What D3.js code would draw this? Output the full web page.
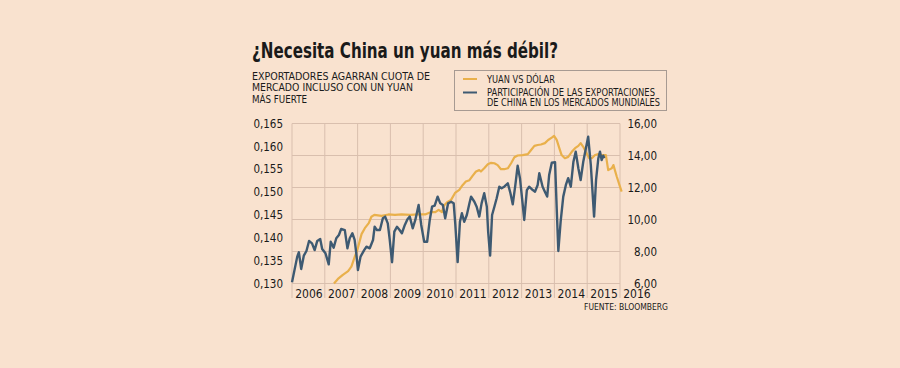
<!DOCTYPE html>
<html><head><meta charset="utf-8">
<script src="https://cdn.jsdelivr.net/npm/d3@7"></script>
<style>
html,body{margin:0;padding:0;background:#f9e2cf;}
svg{display:block;}
</style></head>
<body>
<svg id="chart" width="900" height="368"></svg>
<script>
// ---------- DATA ----------
const title = "¿Necesita China un yuan más débil?";
const subtitleLines = ["EXPORTADORES AGARRAN CUOTA DE", "MERCADO INCLUSO CON UN YUAN", "MÁS FUERTE"];
const legendYuan = ["YUAN VS DÓLAR"];
const legendShare = ["PARTICIPACIÓN DE LAS EXPORTACIONES", "DE CHINA EN LOS MERCADOS MUNDIALES"];
const source = "FUENTE: BLOOMBERG";
const years = [2006, 2007, 2008, 2009, 2010, 2011, 2012, 2013, 2014, 2015, 2016];
const leftTicks = [0.130, 0.135, 0.140, 0.145, 0.150, 0.155, 0.160, 0.165];
const rightTicks = [6, 8, 10, 12, 14, 16];

// Yuan vs dollar (left axis), decimal year
const yuanDates = [2007.28,2007.40,2007.55,2007.71,2007.81,2007.92,2007.99,2008.12,2008.22,2008.34,2008.42,2008.51,2008.73,2008.94,2009.14,2009.34,2009.60,2009.84,2010.06,2010.22,2010.37,2010.47,2010.57,2010.63,2010.73,2010.85,2010.97,2011.10,2011.20,2011.30,2011.41,2011.51,2011.61,2011.71,2011.76,2011.86,2011.97,2012.07,2012.17,2012.27,2012.37,2012.47,2012.58,2012.68,2012.78,2012.88,2013.03,2013.19,2013.29,2013.39,2013.49,2013.59,2013.71,2013.81,2013.92,2013.99,2014.07,2014.15,2014.22,2014.32,2014.42,2014.53,2014.63,2014.73,2014.80,2014.88,2014.98,2015.06,2015.14,2015.24,2015.34,2015.44,2015.57,2015.64,2015.75,2015.80,2015.90,2016.00,2016.05];
const yuanValues = [0.1300,0.1310,0.1319,0.1327,0.1337,0.1360,0.1373,0.1408,0.1421,0.1432,0.1446,0.1450,0.1448,0.1451,0.1450,0.1451,0.1450,0.1451,0.1451,0.1456,0.1456,0.1461,0.1456,0.1470,0.1478,0.1483,0.1498,0.1505,0.1515,0.1523,0.1526,0.1536,0.1545,0.1548,0.1545,0.1552,0.1561,0.1564,0.1563,0.1559,0.1550,0.1550,0.1552,0.1563,0.1576,0.1580,0.1581,0.1583,0.1592,0.1601,0.1603,0.1604,0.1607,0.1614,0.1619,0.1623,0.1614,0.1596,0.1581,0.1574,0.1577,0.1588,0.1596,0.1601,0.1607,0.1599,0.1585,0.1574,0.1574,0.1581,0.1583,0.1581,0.1581,0.1548,0.1552,0.1559,0.1534,0.1512,0.1501];

// China's share of world exports (right axis), decimal year
const shareDates = [2006.00,2006.16,2006.21,2006.28,2006.36,2006.44,2006.52,2006.61,2006.69,2006.77,2006.86,2006.92,2007.02,2007.12,2007.18,2007.27,2007.35,2007.43,2007.50,2007.61,2007.69,2007.76,2007.84,2007.91,2007.96,2008.01,2008.09,2008.20,2008.27,2008.37,2008.47,2008.52,2008.59,2008.68,2008.77,2008.84,2008.92,2008.98,2009.05,2009.12,2009.20,2009.28,2009.35,2009.44,2009.52,2009.59,2009.68,2009.76,2009.86,2009.94,2010.03,2010.12,2010.20,2010.27,2010.35,2010.44,2010.52,2010.60,2010.67,2010.76,2010.85,2010.93,2010.98,2011.05,2011.12,2011.18,2011.25,2011.33,2011.41,2011.46,2011.56,2011.63,2011.71,2011.78,2011.86,2011.94,2011.98,2012.04,2012.10,2012.17,2012.24,2012.32,2012.39,2012.47,2012.58,2012.66,2012.73,2012.81,2012.88,2012.95,2013.03,2013.08,2013.16,2013.23,2013.34,2013.41,2013.49,2013.54,2013.59,2013.64,2013.71,2013.78,2013.84,2013.92,2014.02,2014.07,2014.12,2014.19,2014.27,2014.35,2014.42,2014.50,2014.58,2014.65,2014.73,2014.80,2014.88,2014.95,2015.03,2015.11,2015.21,2015.27,2015.34,2015.39,2015.44,2015.49,2015.52];
const shareValues = [6.08,7.68,7.95,6.91,7.74,8.03,8.66,8.51,8.09,8.66,8.78,8.16,7.89,7.20,8.61,8.24,8.83,9.03,9.41,9.34,8.20,8.83,9.14,8.72,7.89,6.84,7.68,8.09,8.30,8.20,8.72,9.55,9.34,9.34,10.08,10.18,9.76,8.72,7.33,9.24,9.55,9.34,9.14,9.66,10.01,10.18,9.45,9.97,10.91,9.66,8.61,8.61,9.97,10.80,10.86,11.43,11.01,10.91,10.08,11.01,11.11,11.01,9.66,7.34,9.86,10.39,9.86,10.28,11.01,11.43,11.11,10.80,10.18,11.01,11.64,10.80,9.24,7.74,10.28,10.80,11.33,12.05,11.95,12.05,12.26,11.64,10.95,12.16,13.36,12.58,11.01,9.97,11.84,12.05,11.84,11.74,12.16,12.89,12.47,12.05,11.74,11.43,12.78,13.55,13.58,10.70,8.03,9.86,11.43,12.16,12.58,12.05,13.61,14.24,13.20,12.47,13.61,14.34,15.18,13.41,10.18,12.47,13.83,14.24,13.72,13.99,13.83];

// ---------- STYLE ----------
const bg = "#f9e2cf";
const gridColor = "#d9bfae";
const yuanColor = "#e9b04b";
const shareColor = "#3e5a72";
const textColor = "#1a1a1a";
const font = "'DejaVu Sans Condensed', 'DejaVu Sans', sans-serif";

const svg = d3.select("#chart");
svg.append("rect").attr("width", 900).attr("height", 368).attr("fill", bg);

const plot = {left: 292, right: 620, top: 123.5, bottom: 283.5};
const x = d3.scaleLinear().domain([2006, 2016]).range([plot.left, plot.right]);
const yL = d3.scaleLinear().domain([0.130, 0.165]).range([plot.bottom, plot.top]);
const yR = d3.scaleLinear().domain([6, 16]).range([plot.bottom, plot.top]);
const loc = d3.formatLocale({decimal: ",", thousands: ".", grouping: [3], currency: ["", ""]});
const fL = loc.format(".3f"), fR = loc.format(".2f");

function fitText(sel, w) {
  sel.attr("textLength", w).attr("lengthAdjust", "spacingAndGlyphs");
}

// Title
svg.append("text").attr("x", 252).attr("y", 58).attr("font-family", font).attr("font-weight", "bold")
  .attr("font-size", 21).attr("fill", textColor).text(title).call(fitText, 306);

// Subtitle
const subW = [178, 161, 55];
svg.selectAll("text.sub").data(subtitleLines).join("text").attr("class", "sub")
  .attr("x", 252).attr("y", (d, i) => 79.5 + i * 11.7)
  .attr("font-family", font).attr("font-size", 11).attr("fill", textColor)
  .text(d => d).each(function(d, i){ d3.select(this).call(fitText, subW[i]); });

// Legend
const lg = svg.append("g");
lg.append("rect").attr("x", 454.5).attr("y", 70.5).attr("width", 212).attr("height", 40)
  .attr("fill", "none").attr("stroke", "#a79a92").attr("stroke-width", 1);
lg.append("line").attr("x1", 463).attr("x2", 477).attr("y1", 79).attr("y2", 79).attr("stroke", yuanColor).attr("stroke-width", 2);
lg.append("line").attr("x1", 463).attr("x2", 477).attr("y1", 92.5).attr("y2", 92.5).attr("stroke", shareColor).attr("stroke-width", 2);
lg.append("text").attr("x", 487).attr("y", 82.5).attr("font-family", font).attr("font-size", 10).attr("fill", textColor)
  .text(legendYuan[0]).call(fitText, 68);
const legW = [168, 173];
legendShare.forEach((t, i) => {
  lg.append("text").attr("x", 487).attr("y", 96 + i * 10).attr("font-family", font).attr("font-size", 10)
    .attr("fill", textColor).text(t).call(fitText, legW[i]);
});

// Grid
const grid = svg.append("g");
grid.selectAll("line.h").data(rightTicks).join("line").attr("class", "h")
  .attr("x1", plot.left).attr("x2", plot.right)
  .attr("y1", d => yR(d)).attr("y2", d => yR(d))
  .attr("stroke", gridColor).attr("stroke-width", 1);
grid.selectAll("line.v").data(years).join("line").attr("class", "v")
  .attr("x1", d => x(d)).attr("x2", d => x(d))
  .attr("y1", plot.top).attr("y2", 298)
  .attr("stroke", gridColor).attr("stroke-width", 1);

// Axes
const axL = svg.append("g").attr("transform", `translate(${plot.left - 9},0)`)
  .call(d3.axisLeft(yL).tickValues(leftTicks).tickFormat(fL).tickSize(0));
const axR = svg.append("g").attr("transform", `translate(${plot.right + 37},0)`)
  .call(d3.axisLeft(yR).tickValues(rightTicks).tickFormat(fR).tickSize(0));
const axB = svg.append("g").attr("transform", `translate(0,${plot.bottom + 5.5})`)
  .call(d3.axisBottom(x).tickValues(years.map(d => d + 0.5)).tickFormat(d => String(Math.floor(d))).tickSize(0));
[axL, axR, axB].forEach(a => {
  a.select(".domain").remove();
  a.selectAll("text").attr("font-family", font).attr("font-size", 11.5).attr("fill", textColor);
});
axL.selectAll("text").attr("x", 0);
axR.selectAll("text").attr("x", 0);
axB.selectAll("text").attr("y", 0).attr("dy", "0.71em").attr("font-size", 12);

// Lines
const yuanData = yuanDates.map((d, i) => [d, yuanValues[i]]);
const shareData = shareDates.map((d, i) => [d, shareValues[i]]);
svg.append("path").datum(yuanData).attr("fill", "none").attr("stroke", yuanColor).attr("stroke-width", 2.2)
  .attr("stroke-linejoin", "round")
  .attr("d", d3.line().x(d => x(d[0])).y(d => yL(d[1])));
svg.append("path").datum(shareData).attr("fill", "none").attr("stroke", shareColor).attr("stroke-width", 2.4)
  .attr("stroke-linejoin", "round")
  .attr("d", d3.line().x(d => x(d[0])).y(d => yR(d[1])));

// Source
svg.append("text").attr("x", 668).attr("y", 309.5).attr("text-anchor", "end")
  .attr("font-family", font).attr("font-size", 9.5).attr("fill", textColor).text(source).call(fitText, 84);
</script>
</body></html>
